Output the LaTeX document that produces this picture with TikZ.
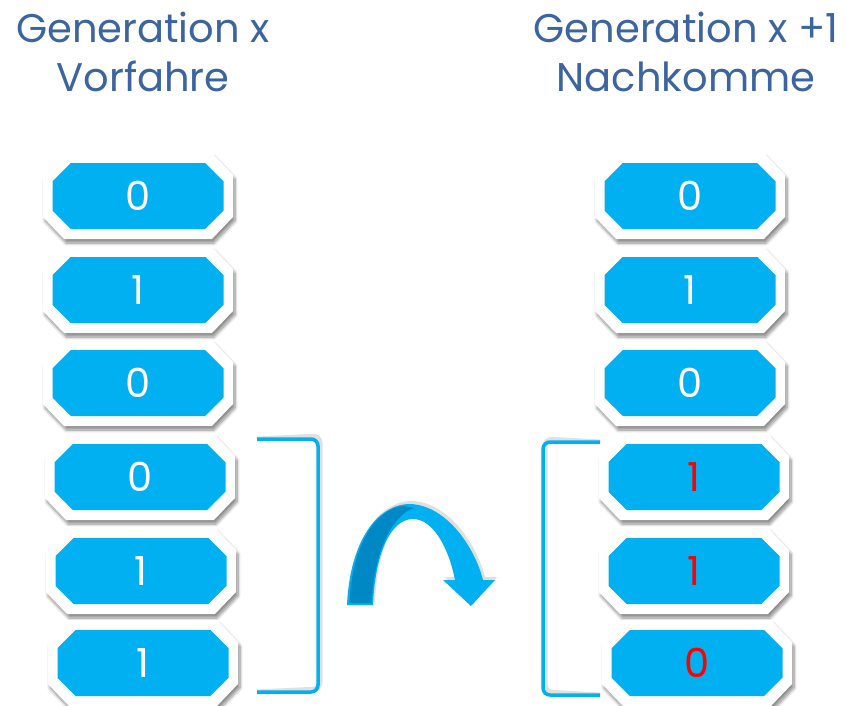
\documentclass[tikz,border=0pt]{standalone}
\usepackage{fontspec}
\setmainfont{Poppins}
\usetikzlibrary{shapes.misc,shadows.blur}
\definecolor{boxblue}{HTML}{00B0F0}
\definecolor{darkblue}{HTML}{0088C4}
\definecolor{titleblue}{HTML}{3C64A0}
\definecolor{flipred}{HTML}{FF0000}
\tikzset{
  % white octagonal mount behind each bit, centred on (#1,#2)
  mount/.style 2 args={insert path={
    (#1-95,#2-21) -- (#1-74,#2-43) -- (#1+74,#2-43) -- (#1+95,#2-21)
    -- (#1+95,#2+21) -- (#1+74,#2+43) -- (#1-74,#2+43) -- (#1-95,#2+21) -- cycle}},
  mountlook/.style={fill=white,
    blur shadow={shadow xshift=2pt, shadow yshift=-4pt, shadow blur steps=8,
      shadow blur radius=3pt, shadow opacity=45}},
  bit/.style={chamfered rectangle, chamfered rectangle xsep=19pt,
    minimum width=171pt, minimum height=66pt, inner sep=0pt, fill=boxblue,
    text=white, font=\fontsize{40}{40}\selectfont},
  flipped/.style={text=flipred},
  title/.style={text=titleblue, align=center, font=\fontsize{40}{49}\selectfont},
  bracket/.style={draw=boxblue, line width=3.5pt, rounded corners=7pt},
  bracketshadow/.style={draw=black!12, line width=5pt, rounded corners=7pt}
}
\begin{document}
\begin{tikzpicture}[x=1pt,y=-1pt]
\useasboundingbox (0,0) rectangle (847,705);

% headings
\node[title] (tl) at (143,52) {Generation x\\Vorfahre};
\node[title] (tr) at (686,52) {Generation x +1\\Nachkomme};

% parent bits
\foreach \i/\x/\y/\b in {1/138/196/0, 2/138/290/1, 3/138/383/0, 4/140/477/0, 5/141/571/1, 6/143/663/1}{
  \path[mountlook, mount={\x}{\y}];
  \node[bit] (l\i) at (\x,\y) {\b};
}
% offspring bits
\foreach \i/\x/\y/\b/\s in {1/690/196/0/bit, 2/690/290/1/bit, 3/690/383/0/bit, 4/694/477/1/flipped, 5/694/571/1/flipped, 6/697/663/0/flipped}{
  \path[mountlook, mount={\x}{\y}];
  \node[bit,\s] (r\i) at (\x,\y) {\b};
}

% brackets round the swapped segment
\coordinate (lbt) at (257,439);
\coordinate (lbb) at (257,692);
\coordinate (rbt) at (600,442);
\coordinate (rbb) at (600,695);
\draw[bracketshadow, xshift=2pt, yshift=3pt] (lbt) -- (318,439) -- (318,692) -- (lbb);
\draw[bracket] (lbt) -- (318,439) -- (318,692) -- (lbb);
\draw[bracketshadow, xshift=2pt, yshift=3pt] (rbt) -- (543,442) -- (543,695) -- (rbb);
\draw[bracket] (rbt) -- (543,442) -- (543,695) -- (rbb);

% curved exchange arrow
\fill[black!25, opacity=0.5, xshift=2pt, yshift=3pt]
  (347,605) .. controls (350,540) and (378,504) .. (410,504)
  .. controls (445,505) and (474,545) .. (483,580)
  -- (495,580) -- (471,606) -- (443,580) -- (455,580)
  .. controls (448,545) and (432,519) .. (413,519)
  .. controls (390,519) and (375,555) .. (373,605) -- cycle;
\fill[boxblue]
  (347,605) .. controls (350,540) and (378,504) .. (410,504)
  .. controls (445,505) and (474,545) .. (483,580)
  -- (495,580) -- (471,606) -- (443,580) -- (455,580)
  .. controls (448,545) and (432,519) .. (413,519)
  .. controls (390,519) and (375,555) .. (373,605) -- cycle;
\fill[darkblue]
  (349.5,603) .. controls (352,545) and (376,508) .. (404,506)
  -- (414,508) .. controls (392,515) and (374,552) .. (371.5,603) -- cycle;
\end{tikzpicture}
\end{document}
